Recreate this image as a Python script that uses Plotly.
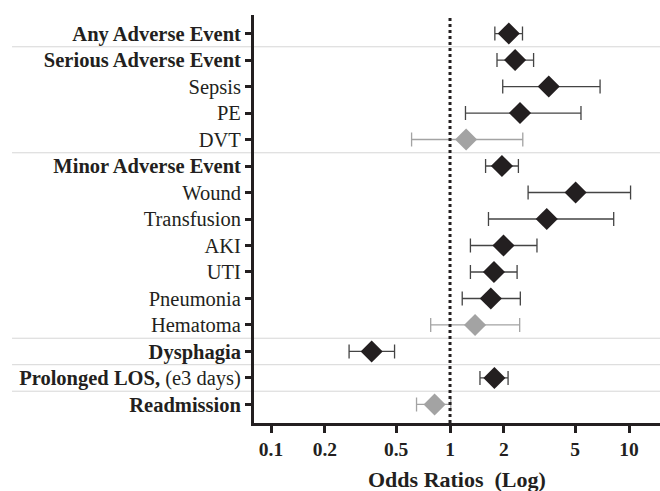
import plotly.graph_objects as go

categories = ["<b>Any Adverse Event</b>", "<b>Serious Adverse Event</b>", "Sepsis", "PE", "DVT",
              "<b>Minor Adverse Event</b>", "Wound", "Transfusion", "AKI", "UTI", "Pneumonia",
              "Hematoma", "<b>Dysphagia</b>", "<b>Prolonged LOS,</b> (e3 days)", "<b>Readmission</b>"]
odds = [2.13, 2.31, 3.56, 2.46, 1.23, 1.95, 5.03, 3.47, 1.99, 1.76, 1.69, 1.38, 0.365, 1.77, 0.82]
ci_low = [1.78, 1.83, 1.97, 1.22, 0.61, 1.58, 2.73, 1.64, 1.30, 1.30, 1.17, 0.78, 0.273, 1.47, 0.65]
ci_high = [2.54, 2.93, 6.89, 5.39, 2.55, 2.41, 10.2, 8.21, 3.06, 2.37, 2.47, 2.45, 0.49, 2.11, 1.01]
significant = [True, True, True, True, False, True, True, True, True, True, True, False, True, True, False]
separators_after = [0, 4, 11, 12, 13]
x_ticks = [0.1, 0.2, 0.5, 1, 2, 5, 10]

ypos = list(range(len(categories)))
fig = go.Figure()
for sig, mcol, ecol in [(True, "#231f20", "#444444"), (False, "#a3a3a3", "#a3a3a3")]:
    idx = [i for i, s in enumerate(significant) if s == sig]
    fig.add_trace(go.Scatter(
        x=[odds[i] for i in idx], y=[ypos[i] for i in idx], mode="markers",
        marker=dict(symbol="diamond", size=17, color=mcol, line=dict(width=0)),
        error_x=dict(type="data", symmetric=False,
                     array=[ci_high[i] - odds[i] for i in idx],
                     arrayminus=[odds[i] - ci_low[i] for i in idx],
                     color=ecol, thickness=1.3, width=7),
        showlegend=False, hoverinfo="skip"))

shapes = []
for s in separators_after:
    shapes.append(dict(type="line", xref="paper", yref="y", x0=-0.596, x1=1, y0=s + 0.5, y1=s + 0.5,
                       line=dict(color="#d6d6d6", width=1), layer="below"))
shapes.append(dict(type="line", xref="x", yref="paper", x0=1, x1=1, y0=0, y1=1,
                   line=dict(color="#231f20", width=3, dash="dot")))

fig.update_layout(
    width=660, height=491, margin=dict(l=254, r=0, t=15, b=68, autoexpand=False),
    paper_bgcolor="white", plot_bgcolor="white",
    font=dict(family="Liberation Serif", color="#231f20", size=20),
    shapes=shapes,
    xaxis=dict(type="log", range=[-1.095, 1.173], tickvals=x_ticks,
               ticktext=["<b>%g</b>" % t for t in x_ticks],
               ticks="outside", ticklen=7, tickwidth=3, tickcolor="#231f20",
               showline=True, linewidth=3, linecolor="#231f20", showgrid=False, zeroline=False,
               tickfont=dict(size=19.5), automargin=False),
    yaxis=dict(range=[14.7, -0.7], tickvals=ypos, ticktext=categories,
               ticks="outside", ticklen=6, tickwidth=3, tickcolor="#231f20",
               showline=True, linewidth=3, linecolor="#231f20", showgrid=False, zeroline=False,
               tickfont=dict(size=20.5), automargin=False),
    annotations=[dict(text="<b>Odds Ratios  (Log)</b>", xref="paper", yref="paper",
                      x=0.5, y=-0.139, xanchor="center", yanchor="middle",
                      showarrow=False, font=dict(size=22))],
)
fig.write_html("out.html", config={"displayModeBar": False},
               post_script="document.body.style.margin='0';document.body.style.overflow='hidden';")
